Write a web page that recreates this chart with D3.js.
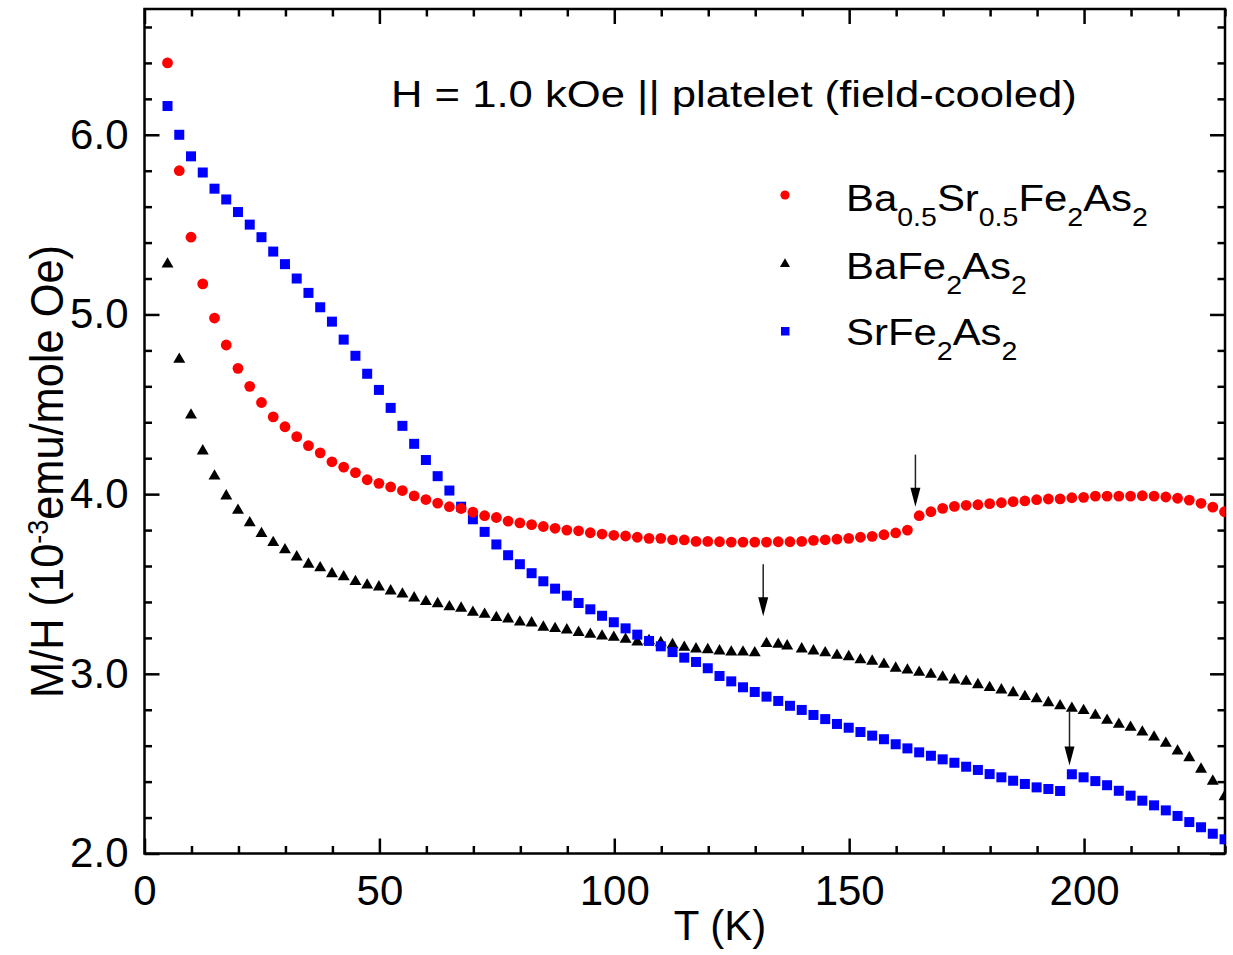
<!DOCTYPE html>
<html><head><meta charset="utf-8">
<script src="https://d3js.org/d3.v7.min.js"></script>
<style>
html,body{margin:0;padding:0;background:#fff;}
svg{display:block;}
text{font-family:"Liberation Sans",Arial,Helvetica,sans-serif;fill:#000;}
</style></head><body>
<svg id="chart" width="1233" height="955"></svg>
<script>
// ---------------- data ----------------
const temps = [4.9, 7.4, 9.9, 12.4, 14.9, 17.4, 19.9, 22.4, 24.9, 27.4, 29.9, 32.4, 34.9, 37.4, 39.9, 42.4, 44.9, 47.4, 49.9, 52.4,
  54.9, 57.4, 59.9, 62.4, 64.9, 67.4, 69.9, 72.4, 74.9, 77.4, 79.9, 82.4, 84.9, 87.4, 89.9, 92.4, 94.9, 97.4, 99.9, 102.4,
  104.9, 107.4, 109.9, 112.4, 114.9, 117.4, 119.9, 122.4, 124.9, 127.4, 129.9, 132.4, 134.9, 137.4, 139.9, 142.4, 144.9, 147.4, 149.9, 152.4,
  154.9, 157.4, 159.9, 162.4, 164.9, 167.4, 169.9, 172.4, 174.9, 177.4, 179.9, 182.4, 184.9, 187.4, 189.9, 192.4, 194.9, 197.4, 199.9, 202.4,
  204.9, 207.4, 209.9, 212.4, 214.9, 217.4, 219.9, 222.4, 224.9, 227.4, 229.9];
const tempsBaFe2As2 = [4.9, 7.4, 9.9, 12.4, 14.9, 17.4, 19.9, 22.4, 24.9, 27.4, 29.9, 32.4, 34.9, 37.4, 39.9, 42.4, 44.9, 47.4, 49.9, 52.4,
  54.9, 57.4, 59.9, 62.4, 64.9, 67.4, 69.9, 72.4, 74.9, 77.4, 79.9, 82.4, 84.9, 87.4, 89.9, 92.4, 94.9, 97.4, 99.9, 102.4,
  104.9, 107.4, 109.9, 112.4, 114.9, 117.4, 119.9, 122.4, 124.9, 127.4, 129.9, 132.4, 134.9, 136.8, 139.9, 142.4, 144.9, 147.4, 149.9, 152.4,
  154.9, 157.4, 159.9, 162.4, 164.9, 167.4, 169.9, 172.4, 174.9, 177.4, 179.9, 182.4, 184.9, 187.4, 189.9, 192.4, 194.9, 197.4, 199.9, 202.4,
  204.9, 207.4, 209.9, 212.4, 214.9, 217.4, 219.9, 222.4, 224.9, 227.4, 229.9];
const mhBaSrFe2As2 = [6.40, 5.80, 5.43, 5.17, 4.98, 4.83, 4.70, 4.60, 4.51, 4.43, 4.375, 4.32, 4.27, 4.23, 4.18, 4.15, 4.12, 4.08, 4.06, 4.04,
  4.02, 3.99, 3.97, 3.95, 3.93, 3.92, 3.90, 3.88, 3.87, 3.85, 3.84, 3.83, 3.82, 3.81, 3.80, 3.796, 3.785, 3.778, 3.771, 3.767,
  3.760, 3.754, 3.754, 3.746, 3.745, 3.737, 3.737, 3.735, 3.733, 3.733, 3.733, 3.733, 3.735, 3.735, 3.737, 3.743, 3.746, 3.750, 3.754, 3.760,
  3.765, 3.774, 3.784, 3.800, 3.880, 3.902, 3.921, 3.932, 3.938, 3.941, 3.947, 3.952, 3.958, 3.962, 3.969, 3.973, 3.974, 3.980, 3.982, 3.989,
  3.989, 3.989, 3.989, 3.991, 3.989, 3.984, 3.977, 3.967, 3.949, 3.928, 3.902];
const mhBaFe2As2 = [5.28, 4.75, 4.44, 4.24, 4.10, 3.99, 3.91, 3.84, 3.78, 3.73, 3.69, 3.65, 3.61, 3.59, 3.557, 3.540, 3.513, 3.494, 3.483, 3.461,
  3.444, 3.422, 3.402, 3.390, 3.373, 3.365, 3.342, 3.331, 3.313, 3.305, 3.288, 3.283, 3.259, 3.252, 3.244, 3.230, 3.220, 3.210, 3.203, 3.192,
  3.177, 3.184, 3.173, 3.162, 3.147, 3.138, 3.134, 3.127, 3.121, 3.121, 3.117, 3.168, 3.164, 3.155, 3.138, 3.127, 3.117, 3.103, 3.095, 3.078,
  3.070, 3.053, 3.031, 3.021, 3.008, 2.997, 2.982, 2.966, 2.958, 2.939, 2.923, 2.910, 2.895, 2.873, 2.861, 2.839, 2.822, 2.808, 2.795, 2.769,
  2.741, 2.719, 2.702, 2.676, 2.648, 2.613, 2.570, 2.533, 2.469, 2.402, 2.316];
const mhSrFe2As2 = [6.16, 6.00, 5.88, 5.79, 5.70, 5.64, 5.57, 5.50, 5.43, 5.35, 5.28, 5.20, 5.12, 5.04, 4.96, 4.86, 4.77, 4.67, 4.58, 4.48,
  4.38, 4.28, 4.19, 4.10, 4.02, 3.93, 3.86, 3.79, 3.72, 3.66, 3.61, 3.56, 3.515, 3.474, 3.435, 3.394, 3.359, 3.323, 3.287, 3.253,
  3.218, 3.183, 3.153, 3.121, 3.090, 3.066, 3.031, 2.988, 2.958, 2.925, 2.899, 2.873, 2.849, 2.822, 2.799, 2.771, 2.748, 2.721, 2.700, 2.676,
  2.656, 2.636, 2.608, 2.585, 2.563, 2.544, 2.524, 2.505, 2.483, 2.465, 2.442, 2.424, 2.405, 2.387, 2.368, 2.359, 2.348, 2.441, 2.424, 2.403,
  2.380, 2.349, 2.322, 2.294, 2.268, 2.240, 2.209, 2.175, 2.146, 2.110, 2.079];

const xTickValues = [0, 50, 100, 150, 200];
const yTickValues = [2.0, 3.0, 4.0, 5.0, 6.0];
const xDomain = [0, 230];
const yDomain = [2.0, 6.7];

// transition arrows: temperature, start value, tip value
const arrowTemps = [164.1, 131.7, 196.9];
const arrowStart = [4.22, 3.61, 2.79];
const arrowTip = [3.93, 3.32, 2.49];

const annotationText = "H = 1.0 kOe || platelet (field-cooled)";
const xTitle = "T (K)";
// [text, script] : script 0 normal, 1 subscript, -1 superscript
const yTitleParts = [["M/H (10", 0], ["-3", -1], ["emu/mole Oe)", 0]];
const legendParts = [
  [["Ba", 0], ["0.5", 1], ["Sr", 0], ["0.5", 1], ["Fe", 0], ["2", 1], ["As", 0], ["2", 1]],
  [["BaFe", 0], ["2", 1], ["As", 0], ["2", 1]],
  [["SrFe", 0], ["2", 1], ["As", 0], ["2", 1]]
];
const seriesColors = ["#ff0000", "#000000", "#0000ff"];

// ---------------- layout ----------------
const L = 144.5, R = 1225, TOP = 9, BOT = 853.5;
const svg = d3.select("#chart");
const x = d3.scaleLinear().domain(xDomain).range([L, R]);
const y = d3.scaleLinear().domain(yDomain).range([BOT, TOP]);

const AXW = 2.5;
function styleAxis(g) {
  g.select(".domain").remove();
  g.selectAll(".tick line").attr("stroke", "#000").attr("stroke-width", AXW);
}
const xMinor = x.ticks(23).filter(v => xTickValues.indexOf(v) < 0);
const yMinor = y.ticks(24).filter(v => !yTickValues.some(t => Math.abs(t - v) < 1e-6));

// bottom
svg.append("g").attr("transform", `translate(0,${BOT})`)
  .call(d3.axisBottom(x).tickValues(xMinor).tickSize(-7.5).tickFormat(""))
  .call(styleAxis);
const xAx = svg.append("g").attr("transform", `translate(0,${BOT})`)
  .call(d3.axisBottom(x).tickValues(xTickValues).tickSize(-15).tickPadding(22).tickFormat(d3.format("d")))
  .call(styleAxis);
xAx.selectAll("text").attr("font-size", 42).attr("font-family", null).attr("fill", "#000");
// top
svg.append("g").attr("transform", `translate(0,${TOP})`)
  .call(d3.axisTop(x).tickValues(xMinor).tickSize(-7.5).tickFormat("")).call(styleAxis);
svg.append("g").attr("transform", `translate(0,${TOP})`)
  .call(d3.axisTop(x).tickValues(xTickValues).tickSize(-15).tickFormat("")).call(styleAxis);
// left
svg.append("g").attr("transform", `translate(${L},0)`)
  .call(d3.axisLeft(y).tickValues(yMinor).tickSize(-7.5).tickFormat("")).call(styleAxis);
const yAx = svg.append("g").attr("transform", `translate(${L},0)`)
  .call(d3.axisLeft(y).tickValues(yTickValues).tickSize(-15).tickPadding(16).tickFormat(d3.format(".1f")))
  .call(styleAxis);
yAx.selectAll("text").attr("font-size", 42).attr("font-family", null).attr("fill", "#000");
// right
svg.append("g").attr("transform", `translate(${R},0)`)
  .call(d3.axisRight(y).tickValues(yMinor).tickSize(-7.5).tickFormat("")).call(styleAxis);
svg.append("g").attr("transform", `translate(${R},0)`)
  .call(d3.axisRight(y).tickValues(yTickValues).tickSize(-15).tickFormat("")).call(styleAxis);

// frame
svg.append("rect").attr("x", L).attr("y", TOP).attr("width", R - L).attr("height", BOT - TOP)
  .attr("fill", "none").attr("stroke", "#000").attr("stroke-width", AXW);

// clip
svg.append("clipPath").attr("id", "plotclip").append("rect")
  .attr("x", L).attr("y", TOP).attr("width", R - L).attr("height", BOT - TOP);
const plot = svg.append("g").attr("clip-path", "url(#plotclip)");

const triPath = d3.symbol().type(d3.symbolTriangle).size(62)();
function drawMarkers(g, xs, vs, shape, color, sz) {
  const data = xs.map((t, i) => [t, vs[i]]);
  if (shape === "circle") {
    g.selectAll(null).data(data).join("circle")
      .attr("cx", d => x(d[0])).attr("cy", d => y(d[1])).attr("r", sz).attr("fill", color);
  } else if (shape === "triangle") {
    g.selectAll(null).data(data).join("path").attr("d", triPath)
      .attr("transform", d => `translate(${x(d[0])},${y(d[1])})`).attr("fill", color);
  } else {
    g.selectAll(null).data(data).join("rect")
      .attr("x", d => x(d[0]) - sz / 2).attr("y", d => y(d[1]) - sz / 2)
      .attr("width", sz).attr("height", sz).attr("fill", color);
  }
}
drawMarkers(plot.append("g"), tempsBaFe2As2, mhBaFe2As2, "triangle", seriesColors[1]);
drawMarkers(plot.append("g"), temps, mhSrFe2As2, "square", seriesColors[2], 10);
drawMarkers(plot.append("g"), temps, mhBaSrFe2As2, "circle", seriesColors[0], 5.4);

// arrows
const HEAD_L = 19, HEAD_W = 10;
arrowTemps.forEach((t, i) => {
  const ax = x(t), y0 = y(arrowStart[i]), y1 = y(arrowTip[i]);
  svg.append("line").attr("x1", ax).attr("x2", ax).attr("y1", y0).attr("y2", y1 - HEAD_L + 2)
    .attr("stroke", "#222").attr("stroke-width", 1.5);
  svg.append("path").attr("d", `M${ax - HEAD_W / 2},${y1 - HEAD_L} L${ax + HEAD_W / 2},${y1 - HEAD_L} L${ax},${y1} Z`)
    .attr("fill", "#000");
});

// rich text helper
function richText(g, parts, size, subScale, subShift, supShift) {
  const t = g.append("text").attr("font-size", size);
  let cur = 0;
  parts.forEach(([s, k]) => {
    const target = k === 1 ? subShift : (k === -1 ? -supShift : 0);
    t.append("tspan").text(s).attr("font-size", k === 0 ? size : size * subScale).attr("dy", target - cur);
    cur = target;
  });
  return t;
}
function fitWidth(textSel, target) {
  const w = textSel.node().getBBox().width;
  return target / w;
}

// annotation
{
  const g = svg.append("g");
  const t = g.append("text").attr("font-size", 36).text(annotationText);
  const s = fitWidth(t, 686);
  g.attr("transform", `translate(391,107) scale(${s},1)`);
}

// legend
const legendY = [195, 264, 331];
const legendBase = [211, 278.5, 345];
{
  let s = null;
  legendParts.forEach((parts, i) => {
    const g = svg.append("g");
    const t = richText(g, parts, 37, 0.68, 15, 0);
    if (s === null) s = fitWidth(t, 302);
    g.attr("transform", `translate(846,${legendBase[i]}) scale(${s},1)`);
  });
  const lg = svg.append("g");
  lg.append("circle").attr("cx", 785).attr("cy", legendY[0]).attr("r", 4.6).attr("fill", seriesColors[0]);
  lg.append("path").attr("d", d3.symbol().type(d3.symbolTriangle).size(44)())
    .attr("transform", `translate(785,${legendY[1]})`).attr("fill", seriesColors[1]);
  lg.append("rect").attr("x", 781).attr("y", legendY[2] - 4).attr("width", 8.5).attr("height", 8.5).attr("fill", seriesColors[2]);
}

// x title
svg.append("text").attr("x", 720).attr("y", 940).attr("text-anchor", "middle").attr("font-size", 42).text(xTitle);

// y title
{
  const g = svg.append("g");
  const t = richText(g, yTitleParts, 42, 0.62, 0, 13).attr("text-anchor", "middle");
  const w = t.node().getBBox().width;
  g.attr("transform", `translate(63,471.5) scale(1.12,${453 / w}) rotate(-90)`);
}
</script>
</body></html>
